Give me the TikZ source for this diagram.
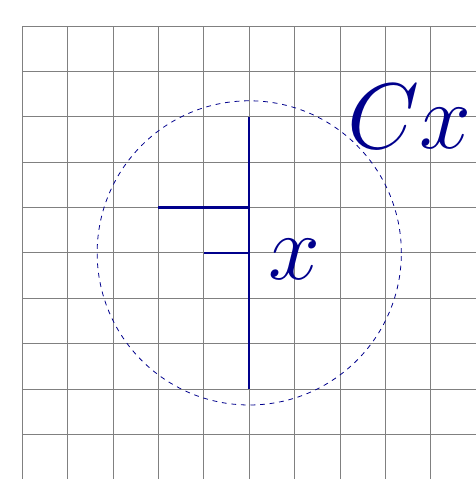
\documentclass[tikz,border=0pt]{standalone}
\definecolor{navy}{RGB}{0,0,140}
\tikzset{
  gridline/.style={draw=gray, line width=0.5pt},
  stroke/.style={draw=navy, line width=1.4pt},
  ring/.style={draw=navy, dashed, line width=0.5pt},
  biglabel/.style={text=navy, inner sep=0pt, font=\Huge, scale=2.35, transform shape}
}
\begin{document}
\begin{tikzpicture}
\useasboundingbox (-5.49,-4.98) rectangle (4.99,5.57);
\draw[gridline] (-5,-5) grid (5,5);
\draw[ring] (0,0) circle (3.35);
\coordinate (top) at (0,3);
\coordinate (bot) at (0,-3);
\coordinate (j1) at (0,1);
\coordinate (j2) at (0,0);
\coordinate (e1) at (-2,1);
\coordinate (e2) at (-1,0);
\draw[stroke] (top) -- (bot);
\draw[stroke] (e1) -- (j1);
\draw[stroke] (e2) -- (j2);
\node[biglabel] (lx) at (1.0,-0.15) {$x$};
\node[biglabel] (lcx) at (3.52,3.0) {$Cx$};
\end{tikzpicture}
\end{document}
